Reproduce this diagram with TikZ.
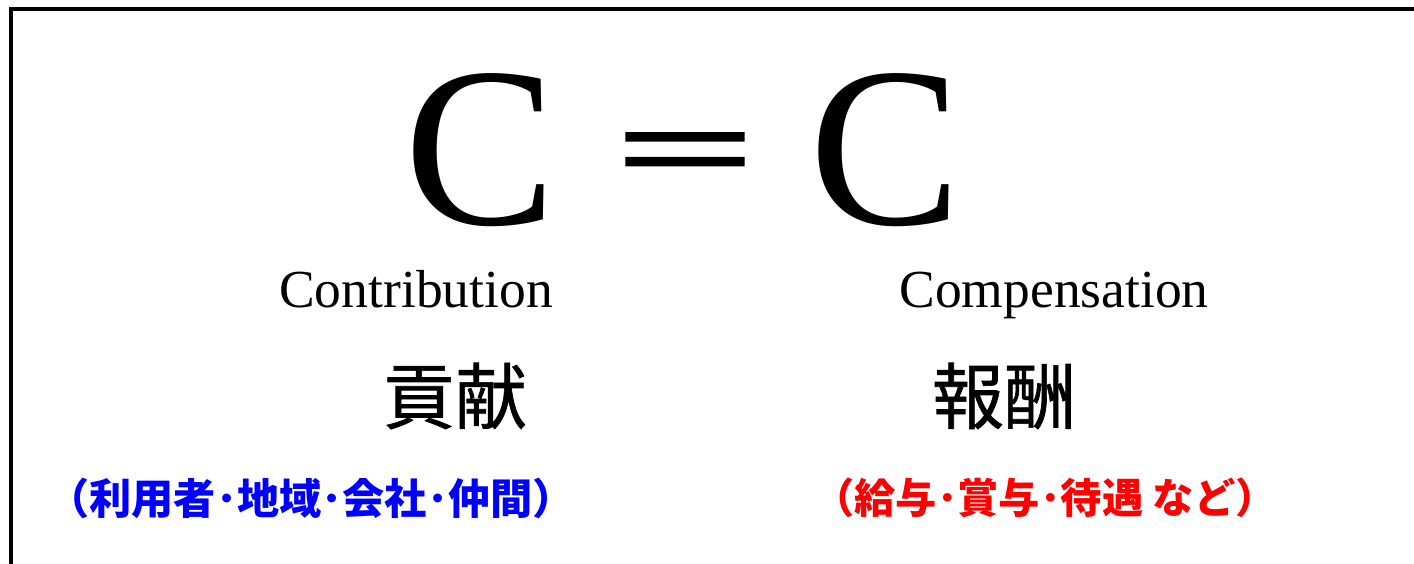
\documentclass[tikz,border=0pt]{standalone}
\usepackage{fontspec}
\setmainfont{Liberation Serif}
\newfontfamily\jp{Noto Sans CJK JP}
\newfontfamily\jpeq[FakeBold=1.8]{Noto Sans CJK JP}
\newfontfamily\jpk[FakeBold=0.9]{Noto Sans CJK JP}
\definecolor{jblue}{RGB}{0,0,255}
\definecolor{jred}{RGB}{255,0,0}
\begin{document}
\begin{tikzpicture}[x=1pt,y=-1pt,
  bigc/.style={font=\fontsize{228}{228}\selectfont, anchor=base, inner sep=0pt},
  eng/.style={font=\fontsize{53.5}{53.5}\selectfont, anchor=base, inner sep=0pt},
  kanji/.style={font=\jpk\fontsize{72}{72}\selectfont, anchor=center, inner sep=0pt},
  note/.style={font=\jp\bfseries\fontsize{41.3}{41.3}\selectfont, anchor=center, inner sep=0pt}]
\useasboundingbox (0,0) rectangle (1414,564);
\clip (0,0) rectangle (1414,564);
\draw[line width=4pt] (10.5,9) rectangle (1440,600);
\node[bigc] (c1) at (481,225) {C};
\node[font=\jpeq\fontsize{160}{160}\selectfont, inner sep=0pt, yscale=0.68] (eq) at (685,162) {＝};
\node[bigc] (c2) at (886,225) {C};
\node[eng] (contrib) at (416,307) {Contribution};
\node[eng] (comp) at (1054,307) {Compensation};
\node[kanji] (kouken) at (455,396) {貢献};
\node[kanji] (houshuu) at (1004,396) {報酬};
\node[note, text=jblue, font=\jp\bfseries\fontsize{42.2}{42.2}\selectfont] (blue) at (311,498) {（利用者･地域･会社･仲間）};
\node[note, text=jred] (red) at (1045,498) {（給与･賞与･待遇 など）};
\end{tikzpicture}
\end{document}
